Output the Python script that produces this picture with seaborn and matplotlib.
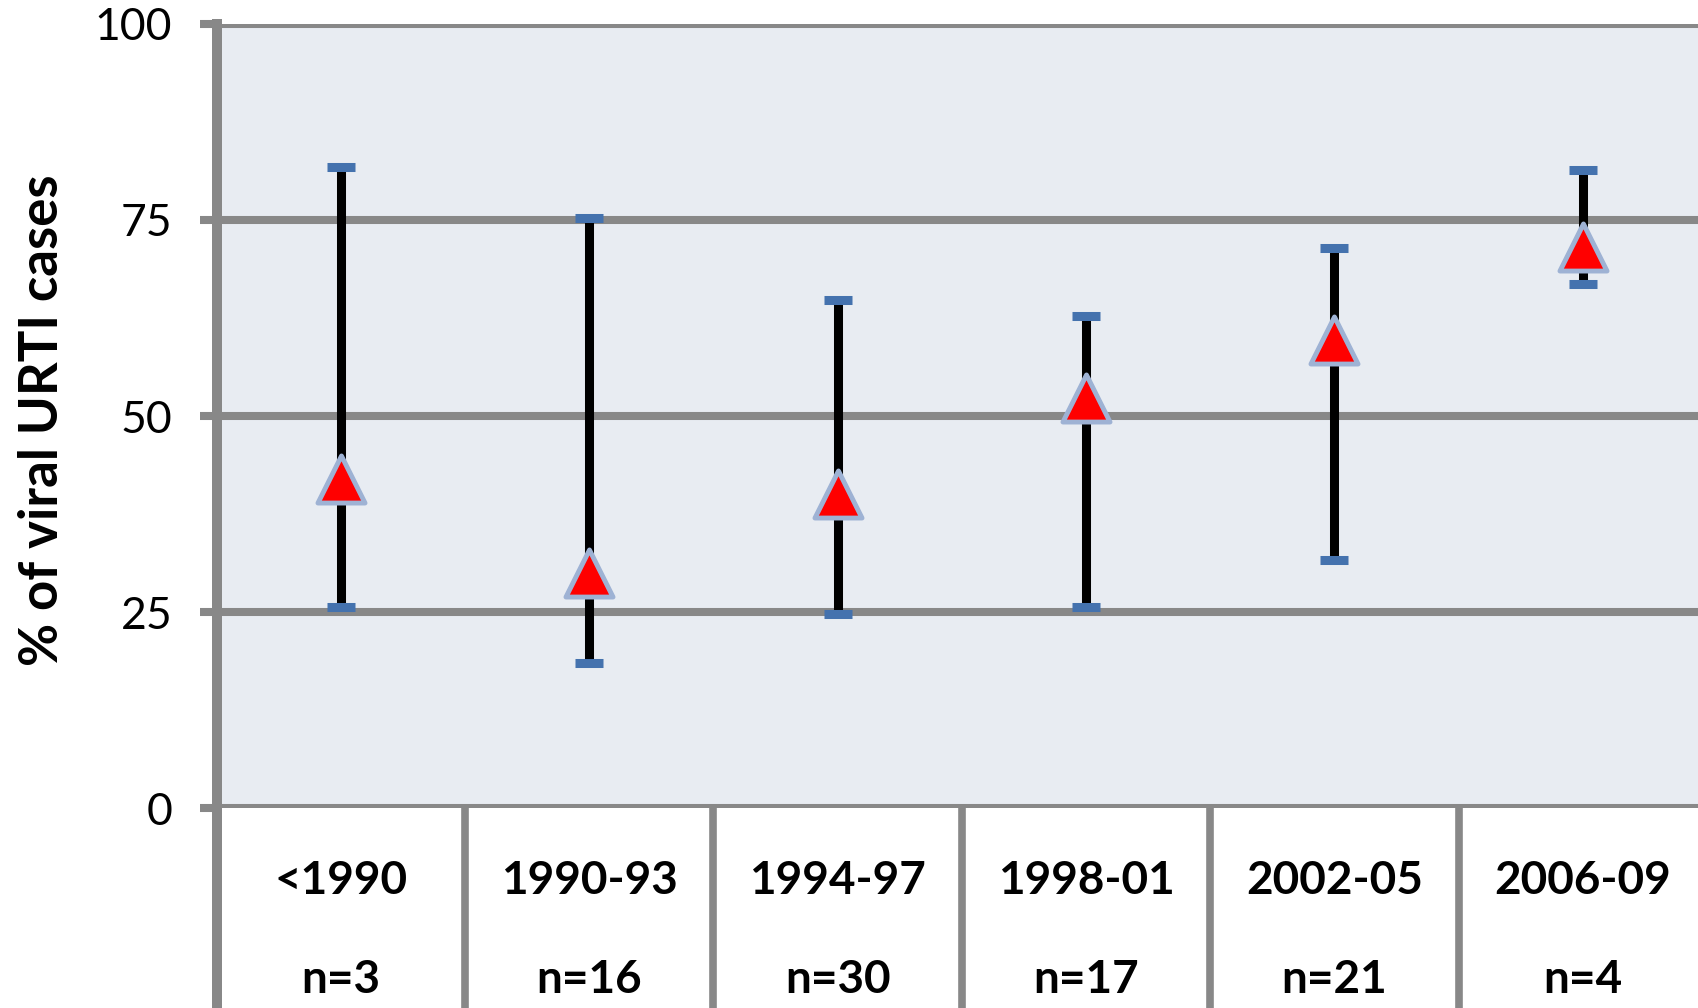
import matplotlib
matplotlib.use("Agg")
import matplotlib.pyplot as plt
import seaborn as sns
import pandas as pd

# Study periods, study counts and percentage of viral URTI cases
periods = ["<1990", "1990-93", "1994-97", "1998-01", "2002-05", "2006-09"]
n_studies = [3, 16, 30, 17, 21, 4]
central = [42.0, 30.0, 40.0, 52.3, 59.7, 71.6]
low = [25.7, 18.5, 24.8, 25.7, 31.6, 66.8]
high = [81.8, 75.2, 64.8, 62.8, 71.4, 81.4]
y_ticks = [0, 25, 50, 75, 100]

df = pd.DataFrame({"period": periods, "n": n_studies, "mid": central,
                   "low": low, "high": high})

sns.set_theme(style="white")
plt.rcParams["font.family"] = ["Lato", "DejaVu Sans"]

GRID = "#888888"
BG = "#E8ECF2"
CAP = "#4472AE"

fig = plt.figure(figsize=(16.98, 10.08), dpi=100)
ax = fig.add_axes([0.1276, 0.1984, 0.8777, 0.7778])
ax.set_facecolor(BG)

x = list(range(len(periods)))

# horizontal reference lines
for yv in y_ticks:
    ax.axhline(yv, color=GRID, lw=5.8, zorder=1, solid_capstyle="butt")

# range bars with capped ends
yerr = [[m - l for m, l in zip(central, low)], [h - m for m, h in zip(central, high)]]
eb = ax.errorbar(x, central, yerr=yerr, fmt="none", ecolor="black",
                 elinewidth=6.5, capsize=10, capthick=6.5, zorder=3)
for cl in eb[1]:
    cl.set_color(CAP)
    cl.set_markeredgecolor(CAP)
    cl.set_zorder(4)

# central estimates
sns.scatterplot(data=df, x="period", y="mid", marker="^", s=1150,
                color="#FF0000", edgecolor="#9EB2D4", linewidth=3.5,
                zorder=5, ax=ax, legend=False)

ax.set_xlim(-0.5, len(periods) - 0.5)
ax.set_ylim(0, 100)
ax.set_yticks(y_ticks)
ax.set_yticklabels([str(v) for v in y_ticks], fontsize=32, color="black")
ax.tick_params(axis="y", length=12, width=5.8, color=GRID, pad=20, left=True)
ax.tick_params(axis="x", bottom=False, labelbottom=False)
ax.set_xlabel("")
ax.set_ylabel("")

for side in ["top", "right", "bottom"]:
    ax.spines[side].set_visible(False)
ax.spines["left"].set_color(GRID)
ax.spines["left"].set_linewidth(7.2)
ax.spines["left"].set_zorder(2)

# table of periods below the plot area
xt = ax.get_xaxis_transform()
ax.vlines([i - 0.5 for i in range(len(periods) + 1)], -0.3, 0,
          transform=xt, colors=GRID, lw=5.5, clip_on=False, zorder=1)
ax.vlines([-0.5], -0.3, 0.0, transform=xt, colors=GRID, lw=7.2, clip_on=False)
for i, (p, n) in enumerate(zip(periods, n_studies)):
    ax.text(i, -0.093, p, transform=xt, ha="center", va="center",
            fontsize=33, fontweight="bold", color="black")
    ax.text(i, -0.219, f"n={n}", transform=xt, ha="center", va="center",
            fontsize=33, fontweight="bold", color="black")

fig.text(0.0250, 0.583, "% of viral URTI cases", rotation=90,
         ha="center", va="center", fontsize=38, fontweight="bold",
         color="black")

fig.savefig("out.png", dpi=100, facecolor="white")
